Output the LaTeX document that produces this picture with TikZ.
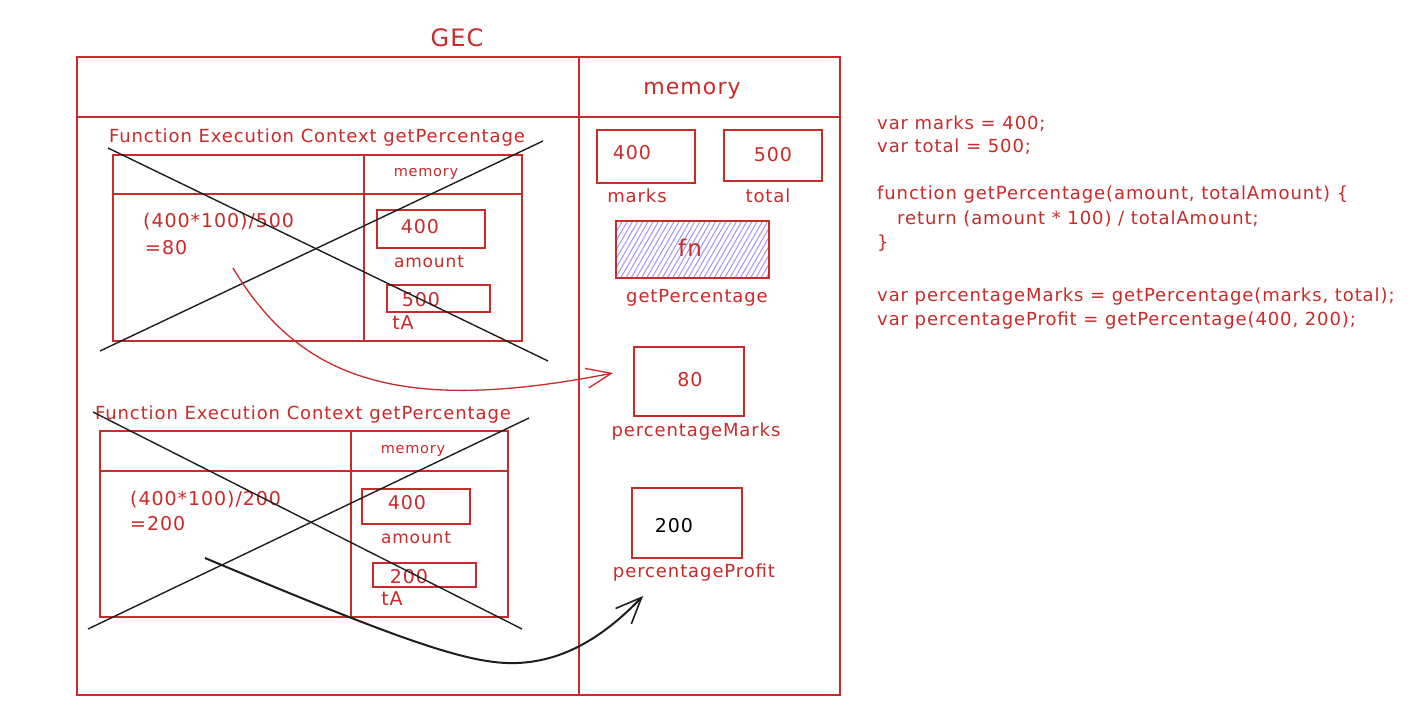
\documentclass[tikz,border=0pt]{standalone}
\usepackage{fontspec}
\setmainfont{DejaVu Sans}[LetterSpace=5]
\usetikzlibrary{arrows.meta,patterns.meta}
\definecolor{exred}{RGB}{201,42,42}
\definecolor{hatchc}{RGB}{160,150,245}
\definecolor{ink}{RGB}{30,30,30}
\begin{document}
\begin{tikzpicture}[x=1pt,y=-1pt,
  frame/.style={draw=exred, line width=1.4pt},
  box/.style={draw=exred, line width=1.4pt, inner sep=0pt, rectangle},
  lbl/.style={text=exred, inner sep=0pt, font=\fontsize{18}{21}\selectfont},
  num/.style={text=exred, inner sep=0pt, font=\fontsize{19}{22}\selectfont},
  small/.style={text=exred, inner sep=0pt, font=\fontsize{14.5}{17}\selectfont},
  big/.style={text=exred, inner sep=0pt, font=\fontsize{22}{26}\selectfont},
  code/.style={text=exred, inner sep=0pt, anchor=west, font=\fontsize{18}{21}\selectfont},
  cross/.style={draw=ink, line width=1.4pt},
  redarrow/.style={draw=exred, line width=1.3pt, -{Straight Barb[length=25pt,width=20pt,line width=1.3pt]}},
  blackarrow/.style={draw=ink, line width=2pt, -{Straight Barb[length=26pt,width=22pt,line width=1.6pt]}}
]
\useasboundingbox (0,0) rectangle (1421,723);
\fill[white] (0,0) rectangle (1421,723);

% GEC frame
\node[box, minimum width=763pt, minimum height=638pt] (gec) at (458.5,376) {};
\node[big, font=\fontsize{24}{28}\selectfont] (gectitle) at (457,38) {GEC};
\draw[frame] (77,117) -- (840,117);
\draw[frame] (579,57) -- (579,695);
\node[big] (memhead) at (692,91) {memory};

% Global memory
\node[box, minimum width=98pt, minimum height=53pt] (m400) at (646,156.5) {};
\node[num] (v400) at (632,153) {400};
\node[lbl] (lmarks) at (637,196) {marks};
\node[box, minimum width=98pt, minimum height=51pt] (m500) at (773,155.5) {};
\node[num] (v500) at (773,155) {500};
\node[lbl] (ltotal) at (768,196) {total};
\node[box, minimum width=153pt, minimum height=57pt, pattern={Lines[angle=60,distance=4.5pt,line width=1pt]}, pattern color=hatchc] (mfn) at (692.5,249.5) {};
\node[big, font=\fontsize{23}{27}\selectfont] (vfn) at (690,248) {fn};
\node[lbl] (lgp) at (697,298) {getPercentage};
\node[box, minimum width=110pt, minimum height=69pt] (m80) at (689,381.5) {};
\node[num] (v80) at (690,380) {80};
\node[lbl] (lpm) at (696,432) {percentageMarks};
\node[box, minimum width=110pt, minimum height=70pt] (m200) at (687,523) {};
\node[num, text=black] (v200) at (674,526) {200};
\node[lbl] (lpp) at (694,573) {percentageProfit};

% FEC 1
\node[lbl] (fec1title) at (317,138) {Function Execution Context getPercentage};
\node[box, minimum width=409pt, minimum height=186pt] (fec1) at (317.5,248) {};
\draw[frame] (113,194) -- (522,194);
\draw[frame] (364,155) -- (364,341);
\node[small] (fec1mem) at (426,174) {memory};
\node[num, anchor=west] (e1a) at (143,222) {(400*100)/500};
\node[num, anchor=west] (e1b) at (145,248) {=80};
\node[box, minimum width=108pt, minimum height=38pt] (a1) at (431,229) {};
\node[num] (a1v) at (420,227) {400};
\node[lbl, font=\fontsize{17}{20}\selectfont] (a1l) at (429,262) {amount};
\node[box, minimum width=103pt, minimum height=27pt] (t1) at (438.5,298.5) {};
\node[num] (t1v) at (421,300) {500};
\node[num] (t1l) at (403,323) {tA};
\coordinate (x1a) at (108,148); \coordinate (x1b) at (548,361);
\coordinate (x1c) at (100,351); \coordinate (x1d) at (543,141);
\draw[cross] (x1a) -- (x1b);
\draw[cross] (x1c) -- (x1d);

% FEC 2
\node[lbl] (fec2title) at (303,415) {Function Execution Context getPercentage};
\node[box, minimum width=408pt, minimum height=186pt] (fec2) at (304,524) {};
\draw[frame] (100,471) -- (508,471);
\draw[frame] (351,431) -- (351,617);
\node[small] (fec2mem) at (413,451) {memory};
\node[num, anchor=west] (e2a) at (130,500) {(400*100)/200};
\node[num, anchor=west] (e2b) at (130,524) {=200};
\node[box, minimum width=108pt, minimum height=35pt] (a2) at (416,506.5) {};
\node[num] (a2v) at (407,503) {400};
\node[lbl, font=\fontsize{17}{20}\selectfont] (a2l) at (416,538) {amount};
\node[box, minimum width=103pt, minimum height=24pt] (t2) at (424.5,575) {};
\node[num] (t2v) at (409,577) {200};
\node[num] (t2l) at (392,599) {tA};
\coordinate (x2a) at (93,412); \coordinate (x2b) at (522,629);
\coordinate (x2c) at (88,629); \coordinate (x2d) at (529,418);
\draw[cross] (x2a) -- (x2b);
\draw[cross] (x2c) -- (x2d);

% arrows
\coordinate (r1s) at (233,268);
\coordinate (r1e) at (613,373);
\draw[redarrow] (r1s) .. controls (300,380) and (400,415) .. (r1e);
\coordinate (b1s) at (205,558);
\coordinate (b1m) at (517,663);
\coordinate (b1e) at (643,596);
\draw[blackarrow] (b1s) .. controls (400,640) and (470,665) .. (b1m) .. controls (570,661) and (610,630) .. (b1e);

% code
\node[code] (c1) at (877,124) {var marks = 400;};
\node[code] (c2) at (877,147) {var total = 500;};
\node[code] (c3) at (877,195) {function getPercentage(amount, totalAmount) \{};
\node[code] (c4) at (897,219) {return (amount * 100) / totalAmount;};
\node[code] (c5) at (877,243) {\}};
\node[code] (c6) at (877,297) {var percentageMarks = getPercentage(marks, total);};
\node[code] (c7) at (877,321) {var percentageProfit = getPercentage(400, 200);};
\end{tikzpicture}
\end{document}
